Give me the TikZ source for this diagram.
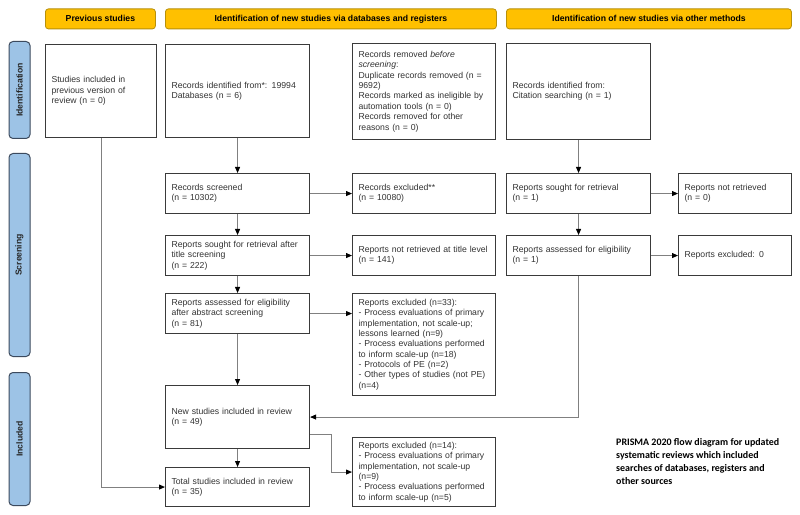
\documentclass[tikz,border=0pt]{standalone}
\usepackage{fontspec}
\setmainfont{Liberation Sans}
\newfontfamily\calib{Carlito}
\usetikzlibrary{arrows.meta}
\definecolor{hdr}{HTML}{FFC000}
\definecolor{hdrb}{HTML}{B8900A}
\definecolor{side}{HTML}{9DC3E6}
\definecolor{sideb}{HTML}{3C4A5E}
\definecolor{boxb}{HTML}{3A3A3A}
\definecolor{conn}{HTML}{808080}
\begin{document}
\begin{tikzpicture}[x=1bp,y=-1bp,
  every node/.style={font=\fontsize{8.7}{10.4}\selectfont},
  hd/.style={draw=hdrb, fill=hdr, rounded corners=3bp, line width=0.8bp,
    font=\fontsize{8.7}{10.4}\selectfont\bfseries, inner sep=0, anchor=north west, minimum height=20bp},
  sd/.style={draw=sideb, fill=side, rounded corners=4bp, line width=1bp, inner sep=0,
    anchor=north west, minimum width=21bp},
  sdt/.style={rotate=90, font=\fontsize{8.7}{10.4}\selectfont\bfseries, text=black!85},
  bx/.style={draw=boxb, line width=1.1bp, align=left, inner xsep=6bp, inner ysep=2bp,
    anchor=north west, text=black!80},
  cA/.style={bx, text width=132bp},
  cB/.style={bx, text width=131bp},
  cC/.style={bx, text width=132bp},
  cD/.style={bx, text width=101bp},
  cP/.style={bx, text width=99bp},
  ar/.style={draw=conn, line width=0.9bp, -{Triangle[length=6bp,width=5bp,color=black]}}
]
\useasboundingbox (0,0) rectangle (800,515);
\fill[white] (0,0) rectangle (800,515);

% headers
\node[hd, minimum width=110bp] (h1) at (45,8.5) {Previous studies};
\node[hd, minimum width=331bp] (h2) at (165,8.5) {Identification of new studies via databases and registers};
\node[hd, minimum width=285bp] (h3) at (506,8.5) {Identification of new studies via other methods};

% side labels
\node[sd, minimum height=97bp] (s1) at (8.5,41) {};
\node[sdt] (s1t) at (s1.center) {Identification};
\node[sd, minimum height=203bp] (s2) at (8.5,153) {};
\node[sdt] (s2t) at (s2.center) {Screening};
\node[sd, minimum height=133bp] (s3) at (8.5,372) {};
\node[sdt] (s3t) at (s3.center) {Included};

% identification row
\node[cP, minimum height=93bp] (prev) at (45,44) {Studies included in\\previous version of\\review (n = 0)};
\node[cA, minimum height=93bp] (recid) at (165,44) {Records identified from*: 19994\\Databases (n = 6)};
\node[cB, minimum height=96bp] (remv) at (352,43) {Records removed \textit{before}\\\textit{screening}:\\Duplicate records removed (n =\\9692)\\Records marked as ineligible by\\automation tools (n = 0)\\Records removed for other\\reasons (n = 0)};
\node[cC, minimum height=96bp] (cit) at (506,43) {Records identified from:\\Citation searching (n = 1)};

% screening rows
\node[cA, minimum height=40bp] (scr) at (165,173) {Records screened\\(n = 10302)};
\node[cB, minimum height=40bp] (excl) at (352,173) {Records excluded**\\(n = 10080)};
\node[cC, minimum height=40bp] (soughtO) at (506,173) {Reports sought for retrieval\\(n = 1)};
\node[cD, minimum height=40bp] (notretO) at (678,173) {Reports not retrieved\\(n = 0)};

\node[cA, minimum height=40bp] (sought) at (165,235) {Reports sought for retrieval after\\title screening\\(n = 222)};
\node[cB, minimum height=40bp] (notret) at (352,235) {Reports not retrieved at title level\\(n = 141)};
\node[cC, minimum height=40bp] (assessO) at (506,235) {Reports assessed for eligibility\\(n = 1)};
\node[cD, minimum height=40bp] (exclO) at (678,235) {Reports excluded: 0};

\node[cA, minimum height=40bp] (assess) at (165,293) {Reports assessed for eligibility\\after abstract screening\\(n = 81)};
\node[cB, minimum height=102bp] (excl33) at (352,293) {Reports excluded (n=33):\\- Process evaluations of primary\\implementation, not scale-up;\\lessons learned (n=9)\\- Process evaluations performed\\to inform scale-up (n=18)\\- Protocols of PE (n=2)\\- Other types of studies (not PE)\\(n=4)};

% included rows
\node[cA, minimum height=63bp] (new) at (165,385) {New studies included in review\\(n = 49)};
\node[cA, minimum height=39bp] (total) at (165,467) {Total studies included in review\\(n = 35)};
\node[cB, minimum height=69bp] (excl14) at (352,437) {Reports excluded (n=14):\\- Process evaluations of primary\\implementation, not scale-up\\(n=9)\\- Process evaluations performed\\to inform scale-up (n=5)};

\node[anchor=north west, align=left, inner sep=0, font=\calib\fontsize{10}{13.3}\selectfont\bfseries] (cap) at (616,438)
  {PRISMA 2020 flow diagram for updated\\systematic reviews which included\\searches of databases, registers and\\other sources};

% connectors
\draw[ar] (prev.south) |- (total.west);
\draw[ar] (recid.south) -- (scr.north);
\draw[ar] (scr.east) -- (excl.west);
\draw[ar] (scr.south) -- (sought.north);
\draw[ar] (sought.east) -- (notret.west);
\draw[ar] (sought.south) -- (assess.north);
\draw[ar] (assess.east) -- (assess.east -| excl33.west);
\draw[ar] (assess.south) -- (new.north);
\draw[ar] (new.south) -- (total.north);
\draw[ar] ([yshift=15bp]new.south east) -- ++(21,0) |- (excl14.west);
\draw[ar] (cit.south) -- (soughtO.north);
\draw[ar] (soughtO.east) -- (notretO.west);
\draw[ar] (soughtO.south) -- (assessO.north);
\draw[ar] (assessO.east) -- (exclO.west);
\draw[ar] (assessO.south) |- (new.east);
\end{tikzpicture}
\end{document}
